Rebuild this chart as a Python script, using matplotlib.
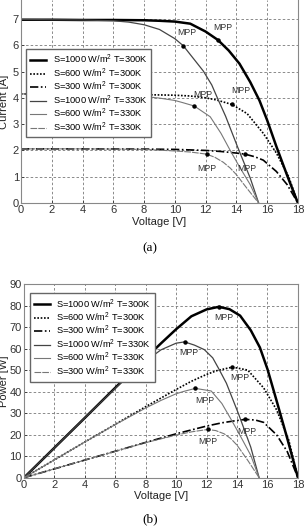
import matplotlib
matplotlib.use('Agg')
import matplotlib.pyplot as plt

plt.rcParams['font.family'] = ['Liberation Sans', 'DejaVu Sans']
plt.rcParams['mathtext.fontset'] = 'custom'
plt.rcParams['mathtext.rm'] = 'Liberation Sans'
plt.rcParams['mathtext.it'] = 'Liberation Sans'

# --- data ---
labels = ['S=1000 W/m$^2$ T=300K', 'S=600 W/m$^2$ T=300K', 'S=300 W/m$^2$ T=300K',
          'S=1000 W/m$^2$ T=330K', 'S=600 W/m$^2$ T=330K', 'S=300 W/m$^2$ T=330K']

v_a = [0, 2, 4, 6, 8, 9, 10, 11, 12, 12.8, 13.5, 14.2, 14.9, 15.5, 16.0, 16.6, 17.3, 18]
i_a = [6.97, 6.97, 6.96, 6.96, 6.95, 6.93, 6.9, 6.82, 6.52, 6.2, 5.8, 5.3, 4.6, 3.9, 3.15, 2.15, 1.05, 0]
p_a = [0, 13.9, 27.8, 41.8, 55.6, 62.4, 69.0, 75.0, 78.2, 79.4, 78.3, 75.3, 68.5, 60.5, 50.4, 35.7, 18.2, 0]

v_b = [0, 4, 8, 10, 11, 12, 12.7, 13.7, 14.7, 15.75, 16.6, 17.4, 18]
i_b = [4.15, 4.14, 4.12, 4.1, 4.07, 4.0, 3.92, 3.75, 3.4, 2.65, 1.9, 1.0, 0]
p_b = [0, 16.6, 33.0, 41.0, 44.8, 48.0, 49.8, 51.4, 50.0, 41.7, 31.5, 17.4, 0]

v_c = [0, 4, 8, 10, 12, 13, 14, 14.55, 15.2, 15.75, 16.6, 17.3, 18]
i_c = [2.06, 2.06, 2.05, 2.04, 2.0, 1.96, 1.9, 1.86, 1.76, 1.63, 1.2, 0.7, 0]
p_c = [0, 8.2, 16.4, 20.4, 24.0, 25.5, 26.6, 27.1, 26.8, 25.7, 19.9, 12.1, 0]

v_d = [0, 2, 4, 6, 7, 8, 9, 10, 10.55, 11.2, 11.85, 12.4, 12.8, 13.3, 14.1, 14.9, 15.45]
i_d = [6.98, 6.97, 6.96, 6.93, 6.88, 6.78, 6.6, 6.25, 5.98, 5.5, 5.02, 4.49, 3.95, 3.3, 2.1, 0.95, 0]
p_d = [0, 13.9, 27.8, 41.6, 48.2, 54.2, 59.4, 62.5, 63.1, 61.6, 59.5, 55.7, 50.6, 43.9, 29.6, 14.2, 0]

v_e = [0, 4, 6, 8, 9, 10, 10.5, 11.26, 12.3, 13.0, 13.6, 14.2, 14.9, 15.45]
i_e = [4.15, 4.14, 4.12, 4.05, 3.99, 3.9, 3.82, 3.69, 3.28, 2.65, 2.0, 1.38, 0.7, 0]
p_e = [0, 16.6, 24.7, 32.4, 35.9, 39.0, 40.1, 41.5, 40.3, 34.5, 27.2, 19.6, 10.4, 0]

v_f = [0, 4, 8, 10, 11, 12.06, 12.6, 13.15, 13.6, 14.0, 14.7, 15.45]
i_f = [2.06, 2.06, 2.04, 1.98, 1.94, 1.86, 1.74, 1.55, 1.33, 1.08, 0.55, 0]
p_f = [0, 8.2, 16.3, 19.8, 21.3, 22.4, 21.9, 20.4, 18.1, 15.1, 8.1, 0]

# maximum power points (V, I, P)
mpp_v = [12.8, 13.7, 14.55, 10.55, 11.26, 12.06]
mpp_i = [6.2, 3.75, 1.86, 5.98, 3.69, 1.86]
mpp_p = [79.4, 51.4, 27.1, 63.1, 41.5, 22.4]

# MPP text anchors
mpp_txt_iv = [(13.1, 6.67), (14.3, 4.26), (14.65, 1.32), (10.8, 6.49), (11.85, 4.14), (12.1, 1.32)]
mpp_txt_pv = [(13.1, 74.6), (14.2, 46.7), (14.65, 21.7), (10.8, 58.2), (11.85, 36.1), (12.1, 16.7)]

volts = [v_a, v_b, v_c, v_d, v_e, v_f]
amps = [i_a, i_b, i_c, i_d, i_e, i_f]
watts = [p_a, p_b, p_c, p_d, p_e, p_f]

styles = [
    dict(color='black', lw=1.8, ls='-'),
    dict(color='black', lw=1.2, ls=(0, (1, 1))),
    dict(color='black', lw=1.2, ls=(0, (5, 1.5, 1, 1.5))),
    dict(color='#444444', lw=0.9, ls='-'),
    dict(color='#777777', lw=0.8, ls='-'),
    dict(color='#777777', lw=0.8, ls=(0, (6, 1))),
]

leg_kw = dict(loc='upper left', fontsize=6.7, handlelength=1.7, handletextpad=0.7,
              labelspacing=0.02, borderpad=0.4, fancybox=False,
              edgecolor='#666666', framealpha=1)


def style_axes(ax):
    ax.grid(True, color='#777777', ls=(0, (3, 2.5)), lw=0.6)
    for s in ax.spines.values():
        s.set_color('#888888')
        s.set_linewidth(0.8)
    ax.tick_params(direction='in', length=2.5, width=0.6, labelsize=8,
                   colors='#333333', pad=1.5)
    ax.set_xlim(0, 18)
    ax.set_xticks(range(0, 19, 2))
    ax.set_xlabel('Voltage [V]', fontsize=8, color='#222222', labelpad=1)


fig = plt.figure(figsize=(3.07, 5.26), dpi=100)

# (a) current vs voltage
ax1 = fig.add_axes([0.0684, 0.614, 0.902, 0.386])
for k in range(6):
    ax1.plot(volts[k], amps[k], label=labels[k], **styles[k])
ax1.plot(mpp_v, mpp_i, 'o', color='black', ms=2.2, zorder=5)
for (x, y) in mpp_txt_iv:
    ax1.text(x, y, 'MPP', fontsize=6.3, color='#333333', ha='center', va='center')
ax1.set_ylim(0, 7.72)
ax1.set_yticks(range(0, 8))
ax1.spines['top'].set_visible(False)
style_axes(ax1)
ax1.set_ylabel('Current [A]', fontsize=8, color='#222222')
ax1.yaxis.set_label_coords(-0.045, 0.5)
ax1.legend(bbox_to_anchor=(0.003, 0.78), **leg_kw)

# (b) power vs voltage
ax2 = fig.add_axes([0.078, 0.0918, 0.8925, 0.3683])
for k in range(6):
    ax2.plot(volts[k], watts[k], label=labels[k], **styles[k])
ax2.plot(mpp_v, mpp_p, 'o', color='black', ms=2.2, zorder=5)
for (x, y) in mpp_txt_pv:
    ax2.text(x, y, 'MPP', fontsize=6.3, color='#333333', ha='center', va='center')
ax2.set_ylim(0, 90)
ax2.set_yticks(range(0, 91, 10))
style_axes(ax2)
ax2.set_ylabel('Power [W]', fontsize=8, color='#222222')
ax2.yaxis.set_label_coords(-0.055, 0.5)
ax2.legend(bbox_to_anchor=(0.005, 0.975), **leg_kw)

fig.text(0.489, 1 - 248 / 526, '(a)', family='Liberation Serif', fontsize=9.5,
         ha='center', va='center')
fig.text(0.489, 1 - 519 / 526, '(b)', family='Liberation Serif', fontsize=9.5,
         ha='center', va='center')

fig.savefig('out.png', dpi=100)
